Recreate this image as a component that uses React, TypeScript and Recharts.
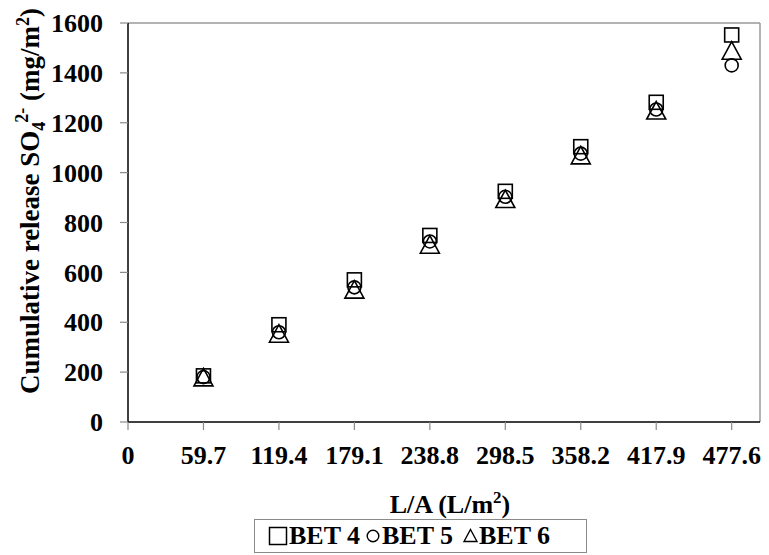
import React from 'react';
import {
  ScatterChart,
  Scatter,
  XAxis,
  YAxis,
  ReferenceLine,
  Legend,
} from 'recharts';

// Liquid-to-area ratio (L/m²) at each sampling step
const xTicks = [0, 59.7, 119.4, 179.1, 238.8, 298.5, 358.2, 417.9, 477.6];
const yTicks = [0, 200, 400, 600, 800, 1000, 1200, 1400, 1600];
const steps = [59.7, 119.4, 179.1, 238.8, 298.5, 358.2, 417.9, 477.6];

// Cumulative SO4 2- release (mg/m²) per specimen
const bet4 = [185, 390, 570, 748, 925, 1104, 1282, 1552];
const bet5 = [180, 360, 540, 724, 903, 1076, 1253, 1430];
const bet6 = [180, 355, 532, 712, 895, 1070, 1250, 1490];

const seriesNames = ['BET 4', 'BET 5', 'BET 6'];

const toPoints = (vals: number[]) => steps.map((x, i) => ({ x, y: vals[i] }));

const FONT = 'Liberation Serif, Tinos, DejaVu Serif, serif';
const tickStyle = { fontFamily: FONT, fontSize: 26, fontWeight: 'bold', fill: '#000' };

const SquareShape = (props: any) => {
  const { cx, cy } = props;
  const s = 14;
  return <rect x={cx - s / 2} y={cy - s / 2} width={s} height={s} fill="none" stroke="#000" strokeWidth={1.6} />;
};

const CircleShape = (props: any) => {
  const { cx, cy } = props;
  return <circle cx={cx} cy={cy} r={6.5} fill="none" stroke="#000" strokeWidth={1.6} />;
};

const TriangleShape = (props: any) => {
  const { cx, cy } = props;
  const w = 19;
  const h = 17.5;
  const d = `M${cx},${cy - h / 2} L${cx + w / 2},${cy + h / 2} L${cx - w / 2},${cy + h / 2} Z`;
  return <path d={d} fill="none" stroke="#000" strokeWidth={1.6} strokeLinejoin="miter" />;
};

const YTitle = () => (
  <text
    transform="translate(39, 201) rotate(-90)"
    textAnchor="middle"
    style={{ fontFamily: FONT }}
    fontSize={27}
    fontWeight="bold"
    fill="#000"
  >
    <tspan>Cumulative release SO</tspan>
    <tspan fontSize={18} dy={6}>4</tspan>
    <tspan fontSize={18} dy={-17} dx={-1}>2-</tspan>
    <tspan dy={11}> (mg/m</tspan>
    <tspan fontSize={18} dy={-10}>2</tspan>
    <tspan dy={10}>)</tspan>
  </text>
);

const XTitle = () => (
  <text x={450} y={513} textAnchor="middle" style={{ fontFamily: FONT }} fontSize={26} fontWeight="bold" fill="#000">
    <tspan>L/A (L/m</tspan>
    <tspan fontSize={17} dy={-10}>2</tspan>
    <tspan dy={10}>)</tspan>
  </text>
);

// icon / label offsets inside the legend frame
const legendIconX = [13, 111, 208];
const legendTextX = [34, 127, 224];

const LegendBox = () => {
  const icons = [
    <svg key="s" width={20} height={20} style={{ display: 'block' }}>
      <rect x={1.5} y={1.5} width={17} height={17} fill="none" stroke="#000" strokeWidth={1.5} />
    </svg>,
    <svg key="c" width={14} height={14} style={{ display: 'block' }}>
      <circle cx={7} cy={7} r={5.8} fill="none" stroke="#000" strokeWidth={1.4} />
    </svg>,
    <svg key="t" width={15} height={15} style={{ display: 'block' }}>
      <path d="M7.5,1.5 L14,13.5 L1,13.5 Z" fill="none" stroke="#000" strokeWidth={1.4} />
    </svg>,
  ];
  const iconTop = [7, 10, 9];
  return (
    <div
      style={{
        position: 'relative',
        boxSizing: 'border-box',
        width: 333,
        height: 34,
        border: '1.5px solid #8a8a8a',
        fontFamily: FONT,
        fontSize: 26,
        fontWeight: 'bold',
        color: '#000',
        lineHeight: '31px',
      }}
    >
      {seriesNames.map((name, i) => (
        <React.Fragment key={name}>
          <div style={{ position: 'absolute', left: legendIconX[i], top: iconTop[i] - 1.5 }}>{icons[i]}</div>
          <span style={{ position: 'absolute', left: legendTextX[i], top: 0, whiteSpace: 'nowrap' }}>{name}</span>
        </React.Fragment>
      ))}
    </div>
  );
};

export default function App() {
  return (
    <div style={{ position: 'absolute', left: 0, top: 0, width: 769, height: 555, background: '#fff', fontFamily: FONT }}>
      <ScatterChart width={769} height={555} margin={{ top: 23, right: 9, bottom: 0, left: 0 }}>
        <XAxis
          type="number"
          dataKey="x"
          domain={[0, 500]}
          ticks={xTicks}
          interval={0}
          tickFormatter={(v: number) => (v === 0 ? '0' : v.toFixed(1))}
          tick={tickStyle}
          tickSize={8}
          tickMargin={16}
          height={133}
          axisLine={{ stroke: '#000', strokeWidth: 1.5 }}
          tickLine={{ stroke: '#8a8a8a', strokeWidth: 1.2 }}
          label={<XTitle />}
        />
        <YAxis
          type="number"
          dataKey="y"
          domain={[0, 1600]}
          ticks={yTicks}
          interval={0}
          tick={tickStyle}
          tickSize={8}
          tickMargin={17}
          width={128}
          axisLine={{ stroke: '#000', strokeWidth: 1.5 }}
          tickLine={{ stroke: '#8a8a8a', strokeWidth: 1.2 }}
          label={<YTitle />}
        />
        <ReferenceLine y={1600} stroke="#9a9a9a" strokeWidth={1.5} />
        <ReferenceLine x={500} stroke="#9a9a9a" strokeWidth={1.5} />
        <Legend
          layout="horizontal"
          verticalAlign="middle"
          align="center"
          wrapperStyle={{ left: 254, top: 519, width: 333, height: 34 }}
          content={() => <LegendBox />}
        />
        <Scatter name={seriesNames[0]} data={toPoints(bet4)} shape={<SquareShape />} isAnimationActive={false} />
        <Scatter name={seriesNames[1]} data={toPoints(bet5)} shape={<CircleShape />} isAnimationActive={false} />
        <Scatter name={seriesNames[2]} data={toPoints(bet6)} shape={<TriangleShape />} isAnimationActive={false} />
      </ScatterChart>
    </div>
  );
}
